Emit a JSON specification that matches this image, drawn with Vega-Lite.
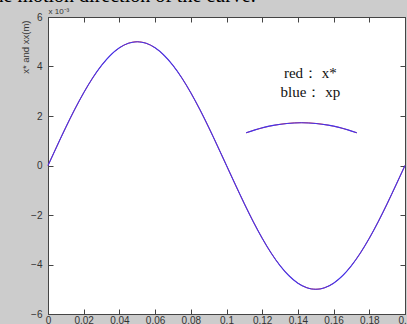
{
  "$schema": "https://vega.github.io/schema/vega-lite/v6.json",
  "width": 357,
  "height": 297,
  "autosize": {"type": "none"},
  "padding": {"left": 48, "top": 17, "right": 2, "bottom": 10},
  "background": "#cccccc",
  "title": {
    "text": "the motion direction of the curve.",
    "anchor": "start",
    "frame": "group",
    "font": "Liberation Serif",
    "fontSize": 20,
    "fontWeight": "normal",
    "color": "#000000",
    "baseline": "alphabetic",
    "offset": -14,
    "dx": -60
  },
  "config": {
    "view": {"fill": "white", "stroke": "#444444", "strokeWidth": 1},
    "axis": {
      "grid": false,
      "labelFont": "Liberation Sans",
      "labelFontSize": 10,
      "labelColor": "#333333",
      "tickColor": "#444444",
      "domainColor": "#444444",
      "tickSize": -5,
      "titleFont": "Liberation Sans",
      "titleFontWeight": "normal",
      "titleColor": "#333333"
    }
  },
  "datasets": {
    "curve": [
      {"x": 0.000, "y": 0.000, "s": "main"},
      {"x": 0.005, "y": 0.782, "s": "main"},
      {"x": 0.010, "y": 1.545, "s": "main"},
      {"x": 0.015, "y": 2.270, "s": "main"},
      {"x": 0.020, "y": 2.939, "s": "main"},
      {"x": 0.025, "y": 3.536, "s": "main"},
      {"x": 0.030, "y": 4.045, "s": "main"},
      {"x": 0.035, "y": 4.455, "s": "main"},
      {"x": 0.040, "y": 4.755, "s": "main"},
      {"x": 0.045, "y": 4.938, "s": "main"},
      {"x": 0.050, "y": 5.000, "s": "main"},
      {"x": 0.055, "y": 4.938, "s": "main"},
      {"x": 0.060, "y": 4.755, "s": "main"},
      {"x": 0.065, "y": 4.455, "s": "main"},
      {"x": 0.070, "y": 4.045, "s": "main"},
      {"x": 0.075, "y": 3.536, "s": "main"},
      {"x": 0.080, "y": 2.939, "s": "main"},
      {"x": 0.085, "y": 2.270, "s": "main"},
      {"x": 0.090, "y": 1.545, "s": "main"},
      {"x": 0.095, "y": 0.782, "s": "main"},
      {"x": 0.100, "y": 0.000, "s": "main"},
      {"x": 0.105, "y": -0.782, "s": "main"},
      {"x": 0.110, "y": -1.545, "s": "main"},
      {"x": 0.115, "y": -2.270, "s": "main"},
      {"x": 0.120, "y": -2.939, "s": "main"},
      {"x": 0.125, "y": -3.536, "s": "main"},
      {"x": 0.130, "y": -4.045, "s": "main"},
      {"x": 0.135, "y": -4.455, "s": "main"},
      {"x": 0.140, "y": -4.755, "s": "main"},
      {"x": 0.145, "y": -4.938, "s": "main"},
      {"x": 0.150, "y": -5.000, "s": "main"},
      {"x": 0.155, "y": -4.938, "s": "main"},
      {"x": 0.160, "y": -4.755, "s": "main"},
      {"x": 0.165, "y": -4.455, "s": "main"},
      {"x": 0.170, "y": -4.045, "s": "main"},
      {"x": 0.175, "y": -3.536, "s": "main"},
      {"x": 0.180, "y": -2.939, "s": "main"},
      {"x": 0.185, "y": -2.270, "s": "main"},
      {"x": 0.190, "y": -1.545, "s": "main"},
      {"x": 0.195, "y": -0.782, "s": "main"},
      {"x": 0.200, "y": 0.000, "s": "main"},
      {"x": 0.111, "y": 1.32, "s": "arc"},
      {"x": 0.116, "y": 1.44, "s": "arc"},
      {"x": 0.121, "y": 1.54, "s": "arc"},
      {"x": 0.127, "y": 1.63, "s": "arc"},
      {"x": 0.134, "y": 1.70, "s": "arc"},
      {"x": 0.142, "y": 1.73, "s": "arc"},
      {"x": 0.150, "y": 1.70, "s": "arc"},
      {"x": 0.157, "y": 1.63, "s": "arc"},
      {"x": 0.163, "y": 1.54, "s": "arc"},
      {"x": 0.168, "y": 1.44, "s": "arc"},
      {"x": 0.173, "y": 1.32, "s": "arc"}
    ],
    "notes": [
      {"x": 0.147, "y": 3.74, "label": "red： x*"},
      {"x": 0.147, "y": 2.98, "label": "blue： xp"}
    ]
  },
  "layer": [
    {
      "data": {"name": "curve"},
      "mark": {"type": "line", "color": "#dd2222", "strokeWidth": 1, "interpolate": "monotone"},
      "encoding": {
        "x": {
          "field": "x", "type": "quantitative",
          "scale": {"domain": [0, 0.2], "nice": false, "zero": false},
          "axis": {
            "values": [0, 0.02, 0.04, 0.06, 0.08, 0.1, 0.12, 0.14, 0.16, 0.18, 0.2],
            "format": ".2~f",
            "title": null,
            "labelPadding": 6,
            "labelFlush": false,
            "labelOverlap": false
          }
        },
        "y": {
          "field": "y", "type": "quantitative",
          "scale": {"domain": [-6, 6], "nice": false},
          "axis": {
            "values": [-6, -4, -2, 0, 2, 4, 6],
            "title": "x* and xx(m)",
            "titleFontSize": 9.5,
            "titleAnchor": "end",
            "titleY": 3,
            "titlePadding": 0,
            "labelPadding": 11,
            "labelFlush": false
          }
        },
        "detail": {"field": "s"}
      }
    },
    {
      "data": {"name": "curve"},
      "mark": {"type": "line", "color": "#3333ff", "strokeWidth": 1.1, "opacity": 0.9, "interpolate": "monotone"},
      "encoding": {
        "x": {
          "field": "x", "type": "quantitative",
          "axis": {
            "orient": "top",
            "values": [0, 0.02, 0.04, 0.06, 0.08, 0.1, 0.12, 0.14, 0.16, 0.18, 0.2],
            "labels": false,
            "title": "x 10⁻³",
            "titleFontSize": 8,
            "titleAnchor": "start",
            "titleAlign": "left",
            "titlePadding": 1
          }
        },
        "y": {
          "field": "y", "type": "quantitative",
          "axis": {
            "orient": "right",
            "values": [-6, -4, -2, 0, 2, 4, 6],
            "labels": false,
            "title": null
          }
        },
        "detail": {"field": "s"}
      }
    },
    {
      "data": {"name": "notes"},
      "mark": {"type": "text", "font": "Liberation Serif", "fontSize": 15, "color": "#111111", "align": "center", "baseline": "middle"},
      "encoding": {
        "x": {"field": "x", "type": "quantitative", "axis": null},
        "y": {"field": "y", "type": "quantitative", "axis": null},
        "text": {"field": "label"}
      }
    }
  ],
  "resolve": {"axis": {"x": "independent", "y": "independent"}}
}
